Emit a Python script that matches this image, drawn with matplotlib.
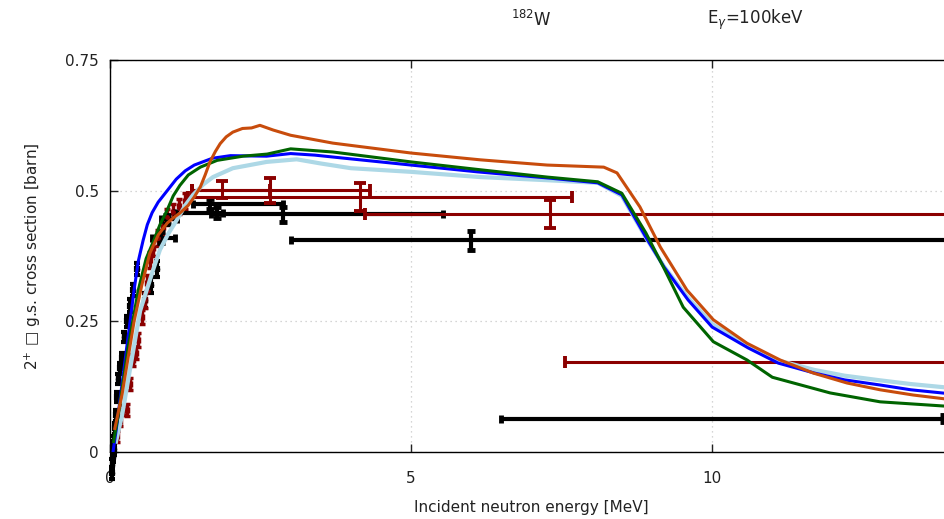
import matplotlib.pyplot as plt

# ===============================
# model curves (E in MeV, sigma in barn)
# ===============================
e_lblue = [0.1, 0.2, 0.35, 0.5, 0.61, 0.72, 0.83, 0.97, 1.11, 1.25, 1.38, 1.55, 1.71, 2.04, 2.6,
           3.1, 3.5, 4.0, 5.0, 6.15, 7.26, 8.1, 8.5, 8.9, 9.2, 9.6, 10.0, 10.6, 11.1, 11.7, 12.2,
           12.8, 13.3, 13.84, 14.5]
s_lblue = [0.02, 0.07, 0.17, 0.27, 0.31, 0.35, 0.387, 0.418, 0.444, 0.472, 0.492, 0.512, 0.526,
           0.543, 0.555, 0.56, 0.552, 0.543, 0.536, 0.526, 0.52, 0.515, 0.49, 0.41, 0.355, 0.295,
           0.245, 0.203, 0.175, 0.157, 0.146, 0.137, 0.130, 0.124, 0.118]

e_blue = [0.05, 0.1, 0.2, 0.3, 0.4, 0.47, 0.55, 0.62, 0.7, 0.8, 0.95, 1.1, 1.25, 1.4, 1.7, 2.0,
          2.6, 3.0, 3.4, 3.9, 5.0, 6.1, 7.3, 8.1, 8.5, 8.9, 9.2, 9.6, 10.0, 10.6, 11.1, 11.7,
          12.2, 12.8, 13.3, 13.9, 14.5]
s_blue = [0.0, 0.04, 0.13, 0.22, 0.31, 0.365, 0.405, 0.435, 0.458, 0.478, 0.50, 0.522, 0.538,
          0.549, 0.562, 0.567, 0.566, 0.571, 0.568, 0.562, 0.549, 0.536, 0.524, 0.515, 0.492,
          0.411, 0.354, 0.291, 0.239, 0.199, 0.170, 0.151, 0.138, 0.128, 0.119, 0.112, 0.105]

e_green = [0.06, 0.15, 0.3, 0.47, 0.6, 0.71, 0.83, 0.95, 1.05, 1.16, 1.3, 1.5, 1.78, 2.21, 2.61,
           3.0, 3.7, 5.0, 6.15, 7.26, 8.1, 8.5, 8.9, 9.19, 9.52, 10.02, 10.58, 11.0, 11.96,
           12.79, 13.84, 14.5]
s_green = [0.02, 0.08, 0.2, 0.31, 0.37, 0.40, 0.435, 0.463, 0.49, 0.51, 0.53, 0.545, 0.558,
           0.566, 0.57, 0.58, 0.574, 0.555, 0.54, 0.526, 0.517, 0.495, 0.419, 0.354, 0.277,
           0.211, 0.176, 0.143, 0.113, 0.096, 0.088, 0.084]

e_orange = [0.08, 0.2, 0.3, 0.4, 0.53, 0.66, 0.8, 0.95, 1.05, 1.16, 1.3, 1.4, 1.5, 1.58, 1.66,
            1.75, 1.83, 1.93, 2.04, 2.2, 2.35, 2.49, 2.71, 3.0, 3.7, 5.0, 6.15, 7.26, 8.2, 8.42,
            8.8, 9.14, 9.58, 10.02, 10.58, 11.13, 11.68, 12.24, 12.79, 13.34, 13.84, 14.5]
s_orange = [0.045, 0.11, 0.18, 0.25, 0.32, 0.38, 0.415, 0.438, 0.448, 0.457, 0.472, 0.488, 0.507,
            0.53, 0.555, 0.575, 0.59, 0.603, 0.612, 0.619, 0.62, 0.625, 0.616, 0.606, 0.591,
            0.572, 0.559, 0.549, 0.545, 0.534, 0.469, 0.392, 0.31, 0.253, 0.208, 0.176, 0.151,
            0.132, 0.119, 0.109, 0.102, 0.095]

# ===============================
# experimental data
# ===============================
# black, low energy
blk_e = [0.03, 0.04, 0.05, 0.06, 0.07, 0.08, 0.1, 0.12, 0.14, 0.17, 0.2, 0.24, 0.28, 0.33, 0.38,
         0.45, 0.58, 0.68, 0.78]
blk_s = [-0.04, -0.025, -0.01, 0.005, 0.02, 0.045, 0.07, 0.105, 0.14, 0.16, 0.18, 0.22, 0.25,
         0.28, 0.31, 0.35, 0.29, 0.32, 0.35]
blk_ds = [0.012, 0.012, 0.01, 0.01, 0.01, 0.01, 0.01, 0.01, 0.01, 0.01, 0.01, 0.01, 0.01, 0.012,
          0.012, 0.012, 0.015, 0.015, 0.015]

# black, wide bins
blkw_e = [0.85, 0.95, 1.66, 1.78, 2.88, 6.0, 13.85]
blkw_s = [0.41, 0.445, 0.474, 0.458, 0.455, 0.405, 0.064]
blkw_lo = [0.15, 0.1, 0.28, 0.7, 1.2, 3.0, 7.35]
blkw_hi = [0.23, 0.17, 1.22, 0.1, 2.65, 9.0, 1.0]
blkw_ds = [0.01, 0.008, 0.01, 0.01, 0.014, 0.018, 0.006]

# dark red, low energy
red_e = [0.12, 0.17, 0.22, 0.28, 0.33, 0.38, 0.43, 0.47, 0.53, 0.58, 0.61, 0.66, 0.72, 0.8,
         0.88, 0.95, 1.05, 1.15, 1.25]
red_s = [0.03, 0.06, 0.08, 0.08, 0.13, 0.176, 0.19, 0.214, 0.258, 0.29, 0.323, 0.367, 0.39, 0.41,
         0.43, 0.45, 0.46, 0.47, 0.48]
red_ds = [0.01, 0.01, 0.01, 0.012, 0.012, 0.012, 0.012, 0.014, 0.014, 0.014, 0.015, 0.015, 0.015,
          0.015, 0.015, 0.015, 0.015, 0.015, 0.015]

# dark red, wide bins
redw_e = [1.86, 2.66, 4.15, 7.31, 14.2]
redw_s = [0.502, 0.501, 0.488, 0.456, 0.172]
redw_lo = [0.5, 1.3, 2.85, 3.07, 6.64]
redw_hi = [0.8, 1.66, 3.52, 8.0, 0.5]
redw_ds = [0.016, 0.024, 0.026, 0.027, 0.01]

# ===============================
# figure
# ===============================
fig = plt.figure(figsize=(9.44, 5.19), dpi=100)
# axes run a bit past the right edge of the picture
ax = fig.add_axes([110 / 944, 67 / 519, 843 / 944, 392 / 519])

ax.errorbar(blk_e, blk_s, xerr=0.015, yerr=blk_ds, fmt='o', ms=3, color='black',
            elinewidth=3, capsize=2, capthick=3, clip_on=False, zorder=2)
ax.errorbar(red_e, red_s, xerr=0.015, yerr=red_ds, fmt='o', ms=2.5, color='#8b0000',
            elinewidth=2.5, capsize=2, capthick=2.5, zorder=2)
ax.errorbar(blkw_e, blkw_s, xerr=[blkw_lo, blkw_hi], yerr=blkw_ds, fmt='none', color='black',
            elinewidth=3, capsize=3, capthick=3.5, zorder=2)
ax.errorbar(redw_e, redw_s, xerr=[redw_lo, redw_hi], yerr=redw_ds, fmt='none', color='#8b0000',
            elinewidth=2.2, capsize=4, capthick=2.8, zorder=2)

ax.plot(e_lblue, s_lblue, color='#add8e6', lw=3, zorder=3)
ax.plot(e_blue, s_blue, color='#0000ff', lw=2.2, zorder=4)
ax.plot(e_green, s_green, color='#006400', lw=2.2, zorder=5)
ax.plot(e_orange, s_orange, color='#c84c0c', lw=2.2, zorder=6)

ax.set_xlim(0, 14)
ax.set_ylim(0, 0.75)
ax.set_xticks([0, 5, 10])
ax.set_yticks([0, 0.25, 0.5, 0.75])
ax.set_yticklabels(['0', '0.25', '0.5', '0.75'])
ax.tick_params(direction='in', length=6, width=1, top=True, right=False,
               labelsize=11, colors='#222222', pad=8)
ax.tick_params(axis='x', pad=14)
ax.grid(True, color='#c8c8c8', linestyle=(0, (1, 3)), lw=0.9)
ax.set_axisbelow(True)
for sp in ax.spines.values():
    sp.set_linewidth(1.0)
ax.spines['right'].set_visible(False)

ax.set_xlabel('Incident neutron energy [MeV]', fontsize=11, color='#222222', labelpad=10)
ax.set_ylabel('2$^{+}$ \u25a1 g.s. cross section [barn]', fontsize=11, color='#222222',
              labelpad=16)

fig.text(531 / 944, 1 - 20 / 519, '$^{182}$W', ha='center', va='center', fontsize=12,
         color='#222222')
fig.text(755 / 944, 1 - 20 / 519, 'E$_{\\gamma}$=100keV', ha='center', va='center',
         fontsize=12, color='#222222')

fig.savefig('out.png', dpi=100)
